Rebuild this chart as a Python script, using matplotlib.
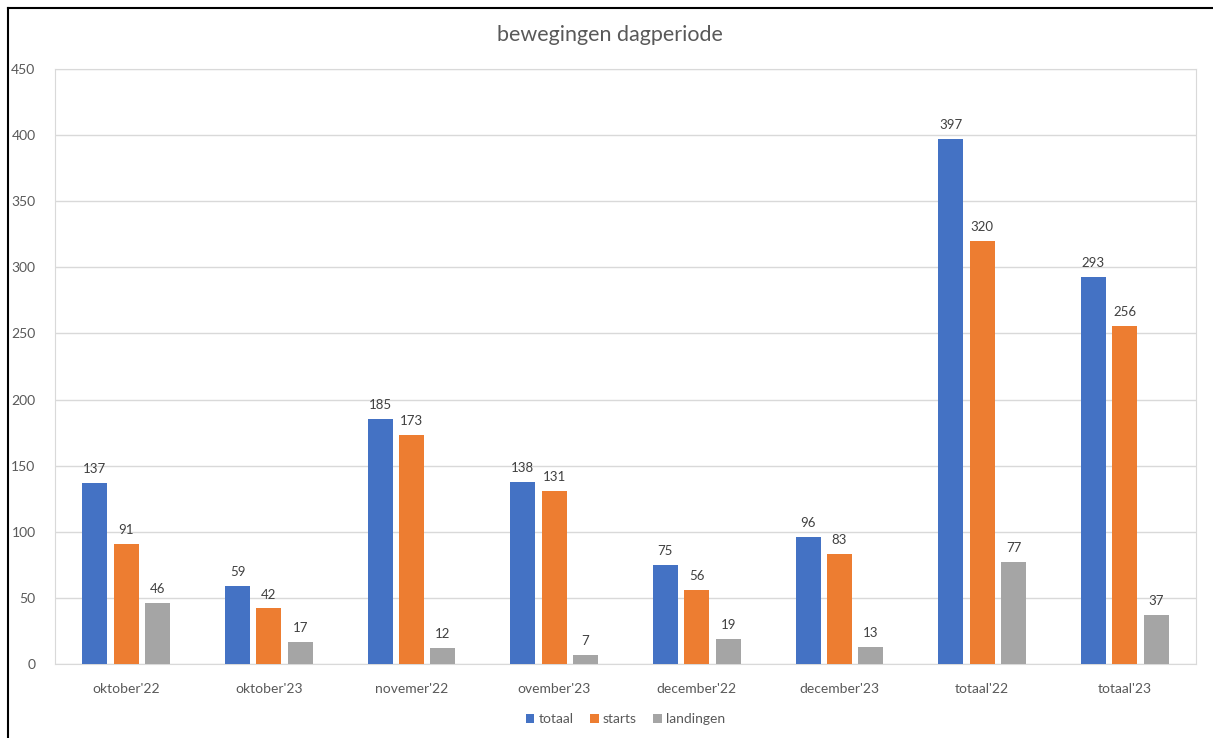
import matplotlib.pyplot as plt
import numpy as np
from matplotlib.lines import Line2D

categories = ["oktober'22", "oktober'23", "novemer'22", "ovember'23",
              "december'22", "december'23", "totaal'22", "totaal'23"]
totaal = [137, 59, 185, 138, 75, 96, 397, 293]
starts = [91, 42, 173, 131, 56, 83, 320, 256]
landingen = [46, 17, 12, 7, 19, 13, 77, 37]

series = [("totaal", totaal, "#4472C4"),
          ("starts", starts, "#ED7D31"),
          ("landingen", landingen, "#A5A5A5")]

plt.rcParams['font.family'] = ['Lato', 'DejaVu Sans']
txt = "#595959"

fig = plt.figure(figsize=(12.13, 7.38), dpi=100)
ax = fig.add_axes([0.0453, 0.1003, 0.9407, 0.8062])

x = np.arange(len(categories))
w = 0.175
offs = [-0.22, 0, 0.22]
for (name, vals, col), o in zip(series, offs):
    bars = ax.bar(x + o, vals, w, color=col, label=name, zorder=3)
    for b, v in zip(bars, vals):
        ax.text(b.get_x() + b.get_width() / 2, v + 6, str(v), ha='center',
                va='bottom', fontsize=9.5, color='#404040')

ax.set_xlim(-0.5, len(categories) - 0.5)
ax.set_ylim(0, 450)
ax.set_yticks(np.arange(0, 451, 50))
ax.set_xticks(x)
ax.set_xticklabels(categories)
ax.tick_params(axis='both', length=0, labelsize=10, colors=txt)
ax.tick_params(axis='y', pad=14)
ax.tick_params(axis='x', pad=14)
ax.grid(axis='y', color='#D9D9D9', linewidth=1, zorder=0)
for s in ax.spines.values():
    s.set_color('#D9D9D9')

fig.text(0.503, 0.953, "bewegingen dagperiode", ha='center', va='center',
         fontsize=15.5, color=txt)

ax.legend(loc='upper center', bbox_to_anchor=(0.5, -0.062), ncol=3,
          frameon=False, fontsize=10, labelcolor=txt, handlelength=0.6,
          handleheight=0.6, handletextpad=0.3, columnspacing=1.2)

# black border on top and left
fig.add_artist(Line2D([8 / 1213, 8 / 1213], [0, 1 - 8 / 738],
                      transform=fig.transFigure, color='black', lw=1.5))
fig.add_artist(Line2D([8 / 1213, 1], [1 - 8 / 738, 1 - 8 / 738],
                      transform=fig.transFigure, color='black', lw=1.5))

fig.savefig("out.png", dpi=100)
